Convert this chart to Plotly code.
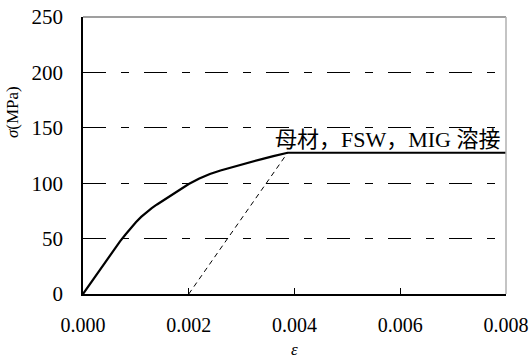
import plotly.graph_objects as go

# Stress-strain curve (母材, FSW, MIG 溶接)
strain = [0.0, 0.0004, 0.0006, 0.0007, 0.0008, 0.0009, 0.0010, 0.0011, 0.0012, 0.0013,
          0.0014, 0.0016, 0.0018, 0.0020, 0.0022, 0.0024, 0.0026, 0.0028, 0.0030,
          0.0032, 0.0034, 0.0036, 0.00375, 0.00387, 0.0080]
stress = [0.0, 27.5, 41.0, 47.5, 53.5, 59.5, 64.8, 69.6, 73.8, 77.5,
          80.8, 87.0, 93.3, 99.3, 104.3, 108.3, 111.5, 114.3, 117.0,
          119.6, 122.0, 124.4, 126.2, 127.5, 127.5]

# 0.2% offset line
offset_strain = [0.002, 0.00387]
offset_stress = [0.0, 127.5]

label_text = "母材，FSW，MIG 溶接"
x_ticks = [0.000, 0.002, 0.004, 0.006, 0.008]
x_tick_text = ["0.000", "0.002", "0.004", "0.006", "0.008"]
y_ticks = [0, 50, 100, 150, 200, 250]

font_main = "Liberation Serif, Noto Sans CJK JP, serif"

fig = go.Figure()
fig.add_trace(go.Scatter(x=offset_strain, y=offset_stress, mode="lines",
                         line=dict(color="black", width=1, dash="5px,4px"),
                         showlegend=False, hoverinfo="skip"))
fig.add_trace(go.Scatter(x=strain, y=stress, mode="lines",
                         line=dict(color="black", width=2.2),
                         showlegend=False))

fig.add_annotation(x=0.008, y=127.5, xref="x", yref="y", text=label_text,
                   showarrow=False, xanchor="right", yanchor="bottom",
                   xshift=-3, yshift=-1,
                   font=dict(family=font_main, size=22, color="black"))

fig.add_annotation(x=-0.166, y=164, xref="paper", yref="y", text="<i>σ</i>(MPa)",
                   showarrow=False, textangle=-90, xanchor="center", yanchor="middle",
                   font=dict(family=font_main, size=17, color="black"))
fig.add_annotation(x=0.004, y=0, xref="x", yref="paper", text="<i>ε</i>",
                   showarrow=False, xanchor="center", yanchor="top", yshift=-44,
                   font=dict(family=font_main, size=17, color="black"))

# frame top/right in gray
fig.add_shape(type="line", xref="paper", yref="paper", x0=0, x1=1, y0=1, y1=1,
              line=dict(color="#7f7f7f", width=1.5), layer="above")
fig.add_shape(type="line", xref="paper", yref="paper", x0=1, x1=1, y0=0, y1=1,
              line=dict(color="#b0b0b0", width=1.5), layer="above")

fig.update_layout(
    width=529, height=360,
    margin=dict(l=83, r=23, t=17, b=66, autoexpand=False),
    paper_bgcolor="white", plot_bgcolor="white",
    font=dict(family=font_main, size=20, color="black"),
    xaxis=dict(range=[0, 0.008], tickvals=x_ticks, ticktext=x_tick_text,
               showgrid=False, zeroline=False, showline=True, automargin=False,
               linecolor="black", linewidth=1.5, ticks="inside", ticklen=6,
               tickcolor="black", tickwidth=1, ticklabelstandoff=12,
               tickfont=dict(family=font_main, size=20)),
    yaxis=dict(range=[0, 250], tickvals=y_ticks, showgrid=True, automargin=False,
               gridcolor="black", gridwidth=1, griddash="23px,15px,8px,15px",
               zeroline=False, showline=True, linecolor="black", linewidth=1.5,
               ticks="", ticklabelstandoff=14,
               tickfont=dict(family=font_main, size=21)),
)

fig.write_html("out.html")
